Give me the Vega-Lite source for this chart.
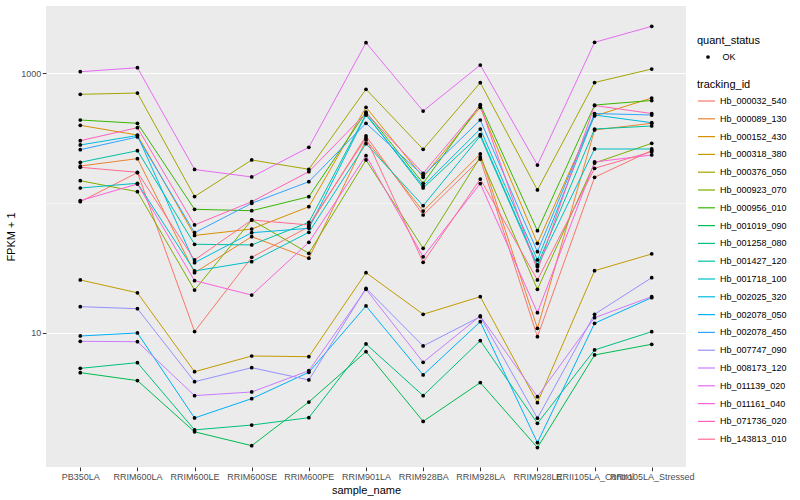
{
"$schema":"https://vega.github.io/schema/vega-lite/v6.json",
"width":640,"height":461,
"autosize":{"type":"none"},
"padding":{"left":46,"top":6,"right":114,"bottom":33},
"background":"white",
"config":{
 "view":{"fill":"#EBEBEB","stroke":null},
 "font":"Liberation Sans",
 "axis":{"domain":false,"gridColor":"white","tickColor":"#333333","labelColor":"#4D4D4D","labelFontSize":9,"titleFontSize":11,"titleFontWeight":"normal","titleColor":"black","tickSize":3.7,"labelPadding":1.5},
 "legend":{"titleFontSize":11,"titleFontWeight":"normal","labelFontSize":9,"labelColor":"black","padding":0}
},
"data":{"values":[
{"tracking_id":"Hb_000032_540","quant_status":"OK","sample_name":"PB350LA","value":102.3},
{"tracking_id":"Hb_000032_540","quant_status":"OK","sample_name":"RRIM600LA","value":171.4},
{"tracking_id":"Hb_000032_540","quant_status":"OK","sample_name":"RRIM600LE","value":10.2},
{"tracking_id":"Hb_000032_540","quant_status":"OK","sample_name":"RRIM600SE","value":38.1},
{"tracking_id":"Hb_000032_540","quant_status":"OK","sample_name":"RRIM600PE","value":65.6},
{"tracking_id":"Hb_000032_540","quant_status":"OK","sample_name":"RRIM901LA","value":328.6},
{"tracking_id":"Hb_000032_540","quant_status":"OK","sample_name":"RRIM928BA","value":80.8},
{"tracking_id":"Hb_000032_540","quant_status":"OK","sample_name":"RRIM928LA","value":218.3},
{"tracking_id":"Hb_000032_540","quant_status":"OK","sample_name":"RRIM928LE","value":9.31},
{"tracking_id":"Hb_000032_540","quant_status":"OK","sample_name":"RRII105LA_Control","value":157.8},
{"tracking_id":"Hb_000032_540","quant_status":"OK","sample_name":"RRII105LA_Stressed","value":254.1},
{"tracking_id":"Hb_000089_130","quant_status":"OK","sample_name":"PB350LA","value":192.8},
{"tracking_id":"Hb_000089_130","quant_status":"OK","sample_name":"RRIM600LA","value":219.8},
{"tracking_id":"Hb_000089_130","quant_status":"OK","sample_name":"RRIM600LE","value":29.0},
{"tracking_id":"Hb_000089_130","quant_status":"OK","sample_name":"RRIM600SE","value":55.0},
{"tracking_id":"Hb_000089_130","quant_status":"OK","sample_name":"RRIM600PE","value":37.5},
{"tracking_id":"Hb_000089_130","quant_status":"OK","sample_name":"RRIM901LA","value":306.2},
{"tracking_id":"Hb_000089_130","quant_status":"OK","sample_name":"RRIM928BA","value":86.7},
{"tracking_id":"Hb_000089_130","quant_status":"OK","sample_name":"RRIM928LA","value":238.8},
{"tracking_id":"Hb_000089_130","quant_status":"OK","sample_name":"RRIM928LE","value":10.8},
{"tracking_id":"Hb_000089_130","quant_status":"OK","sample_name":"RRII105LA_Control","value":365.6},
{"tracking_id":"Hb_000089_130","quant_status":"OK","sample_name":"RRII105LA_Stressed","value":411.7},
{"tracking_id":"Hb_000152_430","quant_status":"OK","sample_name":"PB350LA","value":397.2},
{"tracking_id":"Hb_000152_430","quant_status":"OK","sample_name":"RRIM600LA","value":334.2},
{"tracking_id":"Hb_000152_430","quant_status":"OK","sample_name":"RRIM600LE","value":56.2},
{"tracking_id":"Hb_000152_430","quant_status":"OK","sample_name":"RRIM600SE","value":63.0},
{"tracking_id":"Hb_000152_430","quant_status":"OK","sample_name":"RRIM600PE","value":93.6},
{"tracking_id":"Hb_000152_430","quant_status":"OK","sample_name":"RRIM901LA","value":547.0},
{"tracking_id":"Hb_000152_430","quant_status":"OK","sample_name":"RRIM928BA","value":157.8},
{"tracking_id":"Hb_000152_430","quant_status":"OK","sample_name":"RRIM928LA","value":547.0},
{"tracking_id":"Hb_000152_430","quant_status":"OK","sample_name":"RRIM928LE","value":48.9},
{"tracking_id":"Hb_000152_430","quant_status":"OK","sample_name":"RRII105LA_Control","value":468.8},
{"tracking_id":"Hb_000152_430","quant_status":"OK","sample_name":"RRII105LA_Stressed","value":645.0},
{"tracking_id":"Hb_000318_380","quant_status":"OK","sample_name":"PB350LA","value":25.5},
{"tracking_id":"Hb_000318_380","quant_status":"OK","sample_name":"RRIM600LA","value":20.3},
{"tracking_id":"Hb_000318_380","quant_status":"OK","sample_name":"RRIM600LE","value":5.0},
{"tracking_id":"Hb_000318_380","quant_status":"OK","sample_name":"RRIM600SE","value":6.61},
{"tracking_id":"Hb_000318_380","quant_status":"OK","sample_name":"RRIM600PE","value":6.53},
{"tracking_id":"Hb_000318_380","quant_status":"OK","sample_name":"RRIM901LA","value":29.0},
{"tracking_id":"Hb_000318_380","quant_status":"OK","sample_name":"RRIM928BA","value":13.87},
{"tracking_id":"Hb_000318_380","quant_status":"OK","sample_name":"RRIM928LA","value":18.95},
{"tracking_id":"Hb_000318_380","quant_status":"OK","sample_name":"RRIM928LE","value":2.886},
{"tracking_id":"Hb_000318_380","quant_status":"OK","sample_name":"RRII105LA_Control","value":30.06},
{"tracking_id":"Hb_000318_380","quant_status":"OK","sample_name":"RRII105LA_Stressed","value":40.46},
{"tracking_id":"Hb_000376_050","quant_status":"OK","sample_name":"PB350LA","value":688.7},
{"tracking_id":"Hb_000376_050","quant_status":"OK","sample_name":"RRIM600LA","value":704.7},
{"tracking_id":"Hb_000376_050","quant_status":"OK","sample_name":"RRIM600LE","value":112.2},
{"tracking_id":"Hb_000376_050","quant_status":"OK","sample_name":"RRIM600SE","value":214.6},
{"tracking_id":"Hb_000376_050","quant_status":"OK","sample_name":"RRIM600PE","value":182.0},
{"tracking_id":"Hb_000376_050","quant_status":"OK","sample_name":"RRIM901LA","value":753.4},
{"tracking_id":"Hb_000376_050","quant_status":"OK","sample_name":"RRIM928BA","value":259.4},
{"tracking_id":"Hb_000376_050","quant_status":"OK","sample_name":"RRIM928LA","value":846.2},
{"tracking_id":"Hb_000376_050","quant_status":"OK","sample_name":"RRIM928LE","value":126.0},
{"tracking_id":"Hb_000376_050","quant_status":"OK","sample_name":"RRII105LA_Control","value":849.3},
{"tracking_id":"Hb_000376_050","quant_status":"OK","sample_name":"RRII105LA_Stressed","value":1079.4},
{"tracking_id":"Hb_000923_070","quant_status":"OK","sample_name":"PB350LA","value":148.6},
{"tracking_id":"Hb_000923_070","quant_status":"OK","sample_name":"RRIM600LA","value":122.2},
{"tracking_id":"Hb_000923_070","quant_status":"OK","sample_name":"RRIM600LE","value":21.3},
{"tracking_id":"Hb_000923_070","quant_status":"OK","sample_name":"RRIM600SE","value":73.96},
{"tracking_id":"Hb_000923_070","quant_status":"OK","sample_name":"RRIM600PE","value":40.9},
{"tracking_id":"Hb_000923_070","quant_status":"OK","sample_name":"RRIM901LA","value":214.6},
{"tracking_id":"Hb_000923_070","quant_status":"OK","sample_name":"RRIM928BA","value":44.77},
{"tracking_id":"Hb_000923_070","quant_status":"OK","sample_name":"RRIM928LA","value":226.3},
{"tracking_id":"Hb_000923_070","quant_status":"OK","sample_name":"RRIM928LE","value":21.6},
{"tracking_id":"Hb_000923_070","quant_status":"OK","sample_name":"RRII105LA_Control","value":203.4},
{"tracking_id":"Hb_000923_070","quant_status":"OK","sample_name":"RRII105LA_Stressed","value":288.6},
{"tracking_id":"Hb_000956_010","quant_status":"OK","sample_name":"PB350LA","value":436.5},
{"tracking_id":"Hb_000956_010","quant_status":"OK","sample_name":"RRIM600LA","value":411.7},
{"tracking_id":"Hb_000956_010","quant_status":"OK","sample_name":"RRIM600LE","value":89.4},
{"tracking_id":"Hb_000956_010","quant_status":"OK","sample_name":"RRIM600SE","value":87.2},
{"tracking_id":"Hb_000956_010","quant_status":"OK","sample_name":"RRIM600PE","value":111.8},
{"tracking_id":"Hb_000956_010","quant_status":"OK","sample_name":"RRIM901LA","value":503.0},
{"tracking_id":"Hb_000956_010","quant_status":"OK","sample_name":"RRIM928BA","value":141.9},
{"tracking_id":"Hb_000956_010","quant_status":"OK","sample_name":"RRIM928LA","value":574.6},
{"tracking_id":"Hb_000956_010","quant_status":"OK","sample_name":"RRIM928LE","value":61.1},
{"tracking_id":"Hb_000956_010","quant_status":"OK","sample_name":"RRII105LA_Control","value":569.6},
{"tracking_id":"Hb_000956_010","quant_status":"OK","sample_name":"RRII105LA_Stressed","value":617.0},
{"tracking_id":"Hb_001019_090","quant_status":"OK","sample_name":"PB350LA","value":4.92},
{"tracking_id":"Hb_001019_090","quant_status":"OK","sample_name":"RRIM600LA","value":4.27},
{"tracking_id":"Hb_001019_090","quant_status":"OK","sample_name":"RRIM600LE","value":1.72},
{"tracking_id":"Hb_001019_090","quant_status":"OK","sample_name":"RRIM600SE","value":1.345},
{"tracking_id":"Hb_001019_090","quant_status":"OK","sample_name":"RRIM600PE","value":2.92},
{"tracking_id":"Hb_001019_090","quant_status":"OK","sample_name":"RRIM901LA","value":7.14},
{"tracking_id":"Hb_001019_090","quant_status":"OK","sample_name":"RRIM928BA","value":2.07},
{"tracking_id":"Hb_001019_090","quant_status":"OK","sample_name":"RRIM928LA","value":4.12},
{"tracking_id":"Hb_001019_090","quant_status":"OK","sample_name":"RRIM928LE","value":1.3},
{"tracking_id":"Hb_001019_090","quant_status":"OK","sample_name":"RRII105LA_Control","value":6.73},
{"tracking_id":"Hb_001019_090","quant_status":"OK","sample_name":"RRII105LA_Stressed","value":8.14},
{"tracking_id":"Hb_001258_080","quant_status":"OK","sample_name":"PB350LA","value":5.31},
{"tracking_id":"Hb_001258_080","quant_status":"OK","sample_name":"RRIM600LA","value":5.87},
{"tracking_id":"Hb_001258_080","quant_status":"OK","sample_name":"RRIM600LE","value":1.78},
{"tracking_id":"Hb_001258_080","quant_status":"OK","sample_name":"RRIM600SE","value":1.94},
{"tracking_id":"Hb_001258_080","quant_status":"OK","sample_name":"RRIM600PE","value":2.21},
{"tracking_id":"Hb_001258_080","quant_status":"OK","sample_name":"RRIM901LA","value":8.18},
{"tracking_id":"Hb_001258_080","quant_status":"OK","sample_name":"RRIM928BA","value":3.27},
{"tracking_id":"Hb_001258_080","quant_status":"OK","sample_name":"RRIM928LA","value":8.68},
{"tracking_id":"Hb_001258_080","quant_status":"OK","sample_name":"RRIM928LE","value":2.0},
{"tracking_id":"Hb_001258_080","quant_status":"OK","sample_name":"RRII105LA_Control","value":7.36},
{"tracking_id":"Hb_001258_080","quant_status":"OK","sample_name":"RRII105LA_Stressed","value":10.18},
{"tracking_id":"Hb_001427_120","quant_status":"OK","sample_name":"PB350LA","value":206.0},
{"tracking_id":"Hb_001427_120","quant_status":"OK","sample_name":"RRIM600LA","value":253.1},
{"tracking_id":"Hb_001427_120","quant_status":"OK","sample_name":"RRIM600LE","value":48.05},
{"tracking_id":"Hb_001427_120","quant_status":"OK","sample_name":"RRIM600SE","value":47.5},
{"tracking_id":"Hb_001427_120","quant_status":"OK","sample_name":"RRIM600PE","value":71.0},
{"tracking_id":"Hb_001427_120","quant_status":"OK","sample_name":"RRIM901LA","value":485.5},
{"tracking_id":"Hb_001427_120","quant_status":"OK","sample_name":"RRIM928BA","value":130.5},
{"tracking_id":"Hb_001427_120","quant_status":"OK","sample_name":"RRIM928LA","value":337.4},
{"tracking_id":"Hb_001427_120","quant_status":"OK","sample_name":"RRIM928LE","value":33.3},
{"tracking_id":"Hb_001427_120","quant_status":"OK","sample_name":"RRII105LA_Control","value":372.0},
{"tracking_id":"Hb_001427_120","quant_status":"OK","sample_name":"RRII105LA_Stressed","value":392.4},
{"tracking_id":"Hb_001718_100","quant_status":"OK","sample_name":"PB350LA","value":130.5},
{"tracking_id":"Hb_001718_100","quant_status":"OK","sample_name":"RRIM600LA","value":141.9},
{"tracking_id":"Hb_001718_100","quant_status":"OK","sample_name":"RRIM600LE","value":29.9},
{"tracking_id":"Hb_001718_100","quant_status":"OK","sample_name":"RRIM600SE","value":35.3},
{"tracking_id":"Hb_001718_100","quant_status":"OK","sample_name":"RRIM600PE","value":59.4},
{"tracking_id":"Hb_001718_100","quant_status":"OK","sample_name":"RRIM901LA","value":286.6},
{"tracking_id":"Hb_001718_100","quant_status":"OK","sample_name":"RRIM928BA","value":95.3},
{"tracking_id":"Hb_001718_100","quant_status":"OK","sample_name":"RRIM928LA","value":328.6},
{"tracking_id":"Hb_001718_100","quant_status":"OK","sample_name":"RRIM928LE","value":32.3},
{"tracking_id":"Hb_001718_100","quant_status":"OK","sample_name":"RRII105LA_Control","value":260.9},
{"tracking_id":"Hb_001718_100","quant_status":"OK","sample_name":"RRII105LA_Stressed","value":260.9},
{"tracking_id":"Hb_002025_320","quant_status":"OK","sample_name":"PB350LA","value":280.1},
{"tracking_id":"Hb_002025_320","quant_status":"OK","sample_name":"RRIM600LA","value":331.4},
{"tracking_id":"Hb_002025_320","quant_status":"OK","sample_name":"RRIM600LE","value":34.65},
{"tracking_id":"Hb_002025_320","quant_status":"OK","sample_name":"RRIM600SE","value":59.0},
{"tracking_id":"Hb_002025_320","quant_status":"OK","sample_name":"RRIM600PE","value":63.8},
{"tracking_id":"Hb_002025_320","quant_status":"OK","sample_name":"RRIM901LA","value":476.9},
{"tracking_id":"Hb_002025_320","quant_status":"OK","sample_name":"RRIM928BA","value":135.3},
{"tracking_id":"Hb_002025_320","quant_status":"OK","sample_name":"RRIM928LA","value":372.0},
{"tracking_id":"Hb_002025_320","quant_status":"OK","sample_name":"RRIM928LE","value":36.35},
{"tracking_id":"Hb_002025_320","quant_status":"OK","sample_name":"RRII105LA_Control","value":476.9},
{"tracking_id":"Hb_002025_320","quant_status":"OK","sample_name":"RRII105LA_Stressed","value":416.0},
{"tracking_id":"Hb_002078_050","quant_status":"OK","sample_name":"PB350LA","value":9.43},
{"tracking_id":"Hb_002078_050","quant_status":"OK","sample_name":"RRIM600LA","value":9.95},
{"tracking_id":"Hb_002078_050","quant_status":"OK","sample_name":"RRIM600LE","value":2.2},
{"tracking_id":"Hb_002078_050","quant_status":"OK","sample_name":"RRIM600SE","value":3.1},
{"tracking_id":"Hb_002078_050","quant_status":"OK","sample_name":"RRIM600PE","value":4.95},
{"tracking_id":"Hb_002078_050","quant_status":"OK","sample_name":"RRIM901LA","value":16.07},
{"tracking_id":"Hb_002078_050","quant_status":"OK","sample_name":"RRIM928BA","value":4.72},
{"tracking_id":"Hb_002078_050","quant_status":"OK","sample_name":"RRIM928LA","value":12.15},
{"tracking_id":"Hb_002078_050","quant_status":"OK","sample_name":"RRIM928LE","value":1.42},
{"tracking_id":"Hb_002078_050","quant_status":"OK","sample_name":"RRII105LA_Control","value":11.82},
{"tracking_id":"Hb_002078_050","quant_status":"OK","sample_name":"RRII105LA_Stressed","value":18.62},
{"tracking_id":"Hb_002078_450","quant_status":"OK","sample_name":"PB350LA","value":257.6},
{"tracking_id":"Hb_002078_450","quant_status":"OK","sample_name":"RRIM600LA","value":322.8},
{"tracking_id":"Hb_002078_450","quant_status":"OK","sample_name":"RRIM600LE","value":59.0},
{"tracking_id":"Hb_002078_450","quant_status":"OK","sample_name":"RRIM600SE","value":99.5},
{"tracking_id":"Hb_002078_450","quant_status":"OK","sample_name":"RRIM600PE","value":146.0},
{"tracking_id":"Hb_002078_450","quant_status":"OK","sample_name":"RRIM901LA","value":411.7},
{"tracking_id":"Hb_002078_450","quant_status":"OK","sample_name":"RRIM928BA","value":162.9},
{"tracking_id":"Hb_002078_450","quant_status":"OK","sample_name":"RRIM928LA","value":436.5},
{"tracking_id":"Hb_002078_450","quant_status":"OK","sample_name":"RRIM928LE","value":42.1},
{"tracking_id":"Hb_002078_450","quant_status":"OK","sample_name":"RRII105LA_Control","value":489.8},
{"tracking_id":"Hb_002078_450","quant_status":"OK","sample_name":"RRII105LA_Stressed","value":476.9},
{"tracking_id":"Hb_007747_090","quant_status":"OK","sample_name":"PB350LA","value":15.87},
{"tracking_id":"Hb_007747_090","quant_status":"OK","sample_name":"RRIM600LA","value":15.31},
{"tracking_id":"Hb_007747_090","quant_status":"OK","sample_name":"RRIM600LE","value":4.19},
{"tracking_id":"Hb_007747_090","quant_status":"OK","sample_name":"RRIM600SE","value":5.37},
{"tracking_id":"Hb_007747_090","quant_status":"OK","sample_name":"RRIM600PE","value":4.32},
{"tracking_id":"Hb_007747_090","quant_status":"OK","sample_name":"RRIM901LA","value":22.0},
{"tracking_id":"Hb_007747_090","quant_status":"OK","sample_name":"RRIM928BA","value":7.9},
{"tracking_id":"Hb_007747_090","quant_status":"OK","sample_name":"RRIM928LA","value":13.29},
{"tracking_id":"Hb_007747_090","quant_status":"OK","sample_name":"RRIM928LE","value":2.19},
{"tracking_id":"Hb_007747_090","quant_status":"OK","sample_name":"RRII105LA_Control","value":13.87},
{"tracking_id":"Hb_007747_090","quant_status":"OK","sample_name":"RRII105LA_Stressed","value":26.56},
{"tracking_id":"Hb_008173_120","quant_status":"OK","sample_name":"PB350LA","value":8.58},
{"tracking_id":"Hb_008173_120","quant_status":"OK","sample_name":"RRIM600LA","value":8.52},
{"tracking_id":"Hb_008173_120","quant_status":"OK","sample_name":"RRIM600LE","value":3.27},
{"tracking_id":"Hb_008173_120","quant_status":"OK","sample_name":"RRIM600SE","value":3.49},
{"tracking_id":"Hb_008173_120","quant_status":"OK","sample_name":"RRIM600PE","value":5.09},
{"tracking_id":"Hb_008173_120","quant_status":"OK","sample_name":"RRIM901LA","value":21.6},
{"tracking_id":"Hb_008173_120","quant_status":"OK","sample_name":"RRIM928BA","value":5.91},
{"tracking_id":"Hb_008173_120","quant_status":"OK","sample_name":"RRIM928LA","value":13.45},
{"tracking_id":"Hb_008173_120","quant_status":"OK","sample_name":"RRIM928LE","value":3.21},
{"tracking_id":"Hb_008173_120","quant_status":"OK","sample_name":"RRII105LA_Control","value":13.05},
{"tracking_id":"Hb_008173_120","quant_status":"OK","sample_name":"RRII105LA_Stressed","value":18.95},
{"tracking_id":"Hb_011139_020","quant_status":"OK","sample_name":"PB350LA","value":1028.7},
{"tracking_id":"Hb_011139_020","quant_status":"OK","sample_name":"RRIM600LA","value":1104.6},
{"tracking_id":"Hb_011139_020","quant_status":"OK","sample_name":"RRIM600LE","value":181.3},
{"tracking_id":"Hb_011139_020","quant_status":"OK","sample_name":"RRIM600SE","value":158.7},
{"tracking_id":"Hb_011139_020","quant_status":"OK","sample_name":"RRIM600PE","value":268.9},
{"tracking_id":"Hb_011139_020","quant_status":"OK","sample_name":"RRIM901LA","value":1721.4},
{"tracking_id":"Hb_011139_020","quant_status":"OK","sample_name":"RRIM928BA","value":512.0},
{"tracking_id":"Hb_011139_020","quant_status":"OK","sample_name":"RRIM928LA","value":1158.8},
{"tracking_id":"Hb_011139_020","quant_status":"OK","sample_name":"RRIM928LE","value":196.3},
{"tracking_id":"Hb_011139_020","quant_status":"OK","sample_name":"RRII105LA_Control","value":1733.8},
{"tracking_id":"Hb_011139_020","quant_status":"OK","sample_name":"RRII105LA_Stressed","value":2303.5},
{"tracking_id":"Hb_011161_040","quant_status":"OK","sample_name":"PB350LA","value":104.2},
{"tracking_id":"Hb_011161_040","quant_status":"OK","sample_name":"RRIM600LA","value":140.1},
{"tracking_id":"Hb_011161_040","quant_status":"OK","sample_name":"RRIM600LE","value":25.2},
{"tracking_id":"Hb_011161_040","quant_status":"OK","sample_name":"RRIM600SE","value":19.5},
{"tracking_id":"Hb_011161_040","quant_status":"OK","sample_name":"RRIM600PE","value":49.8},
{"tracking_id":"Hb_011161_040","quant_status":"OK","sample_name":"RRIM901LA","value":231.5},
{"tracking_id":"Hb_011161_040","quant_status":"OK","sample_name":"RRIM928BA","value":38.5},
{"tracking_id":"Hb_011161_040","quant_status":"OK","sample_name":"RRIM928LA","value":141.3},
{"tracking_id":"Hb_011161_040","quant_status":"OK","sample_name":"RRIM928LE","value":14.26},
{"tracking_id":"Hb_011161_040","quant_status":"OK","sample_name":"RRII105LA_Control","value":207.1},
{"tracking_id":"Hb_011161_040","quant_status":"OK","sample_name":"RRII105LA_Stressed","value":234.5},
{"tracking_id":"Hb_071736_020","quant_status":"OK","sample_name":"PB350LA","value":302.2},
{"tracking_id":"Hb_071736_020","quant_status":"OK","sample_name":"RRIM600LA","value":380.7},
{"tracking_id":"Hb_071736_020","quant_status":"OK","sample_name":"RRIM600LE","value":67.7},
{"tracking_id":"Hb_071736_020","quant_status":"OK","sample_name":"RRIM600SE","value":102.3},
{"tracking_id":"Hb_071736_020","quant_status":"OK","sample_name":"RRIM600PE","value":174.3},
{"tracking_id":"Hb_071736_020","quant_status":"OK","sample_name":"RRIM901LA","value":494.2},
{"tracking_id":"Hb_071736_020","quant_status":"OK","sample_name":"RRIM928BA","value":169.4},
{"tracking_id":"Hb_071736_020","quant_status":"OK","sample_name":"RRIM928LA","value":564.6},
{"tracking_id":"Hb_071736_020","quant_status":"OK","sample_name":"RRIM928LE","value":30.06},
{"tracking_id":"Hb_071736_020","quant_status":"OK","sample_name":"RRII105LA_Control","value":564.6},
{"tracking_id":"Hb_071736_020","quant_status":"OK","sample_name":"RRII105LA_Stressed","value":489.8},
{"tracking_id":"Hb_143813_010","quant_status":"OK","sample_name":"PB350LA","value":188.5},
{"tracking_id":"Hb_143813_010","quant_status":"OK","sample_name":"RRIM600LA","value":172.5},
{"tracking_id":"Hb_143813_010","quant_status":"OK","sample_name":"RRIM600LE","value":36.35},
{"tracking_id":"Hb_143813_010","quant_status":"OK","sample_name":"RRIM600SE","value":73.96},
{"tracking_id":"Hb_143813_010","quant_status":"OK","sample_name":"RRIM600PE","value":67.7},
{"tracking_id":"Hb_143813_010","quant_status":"OK","sample_name":"RRIM901LA","value":317.1},
{"tracking_id":"Hb_143813_010","quant_status":"OK","sample_name":"RRIM928BA","value":34.9},
{"tracking_id":"Hb_143813_010","quant_status":"OK","sample_name":"RRIM928LA","value":153.1},
{"tracking_id":"Hb_143813_010","quant_status":"OK","sample_name":"RRIM928LE","value":25.5},
{"tracking_id":"Hb_143813_010","quant_status":"OK","sample_name":"RRII105LA_Control","value":185.1},
{"tracking_id":"Hb_143813_010","quant_status":"OK","sample_name":"RRII105LA_Stressed","value":248.6}
]},
"encoding":{
 "x":{"field":"sample_name","type":"nominal","sort":["PB350LA","RRIM600LA","RRIM600LE","RRIM600SE","RRIM600PE","RRIM901LA","RRIM928BA","RRIM928LA","RRIM928LE","RRII105LA_Control","RRII105LA_Stressed"],"scale":{"type":"point","padding":0.6},"axis":{"title":"sample_name","labelAngle":0,"labelOverlap":false,"gridWidth":1.1,"titlePadding":3}},
 "y":{"field":"value","type":"quantitative","scale":{"type":"log","domain":[0.921,3304],"nice":false,"zero":false},"axis":{"title":"FPKM + 1","values":[10,100,1000],"format":"d","labelExpr":"datum.value == 100 ? '' : datum.label","gridWidth":{"condition":{"test":"datum.value == 100","value":0.5},"value":1.1},"tickOpacity":{"condition":{"test":"datum.value == 100","value":0},"value":1},"titlePadding":4}}
},
"layer":[
 {"mark":{"type":"line","strokeWidth":1},
  "encoding":{"color":{"field":"tracking_id","type":"nominal","title":"tracking_id",
   "scale":{"domain":["Hb_000032_540","Hb_000089_130","Hb_000152_430","Hb_000318_380","Hb_000376_050","Hb_000923_070","Hb_000956_010","Hb_001019_090","Hb_001258_080","Hb_001427_120","Hb_001718_100","Hb_002025_320","Hb_002078_050","Hb_002078_450","Hb_007747_090","Hb_008173_120","Hb_011139_020","Hb_011161_040","Hb_071736_020","Hb_143813_010"],
    "range":["#F8766D","#EA8331","#D89000","#C09B00","#A3A500","#7CAE00","#39B600","#00BB4E","#00BF7D","#00C1A3","#00BFC4","#00BAE0","#00B0F6","#35A2FF","#9590FF","#C77CFF","#E76BF3","#FA62DB","#FF62BC","#FF6C91"]},
   "legend":{"orient":"none","legendX":651,"legendY":73,"symbolType":"stroke","symbolSize":289,"symbolStrokeWidth":1.2,"rowPadding":2.8,"titlePadding":1.5,"labelOffset":4}}}},
 {"mark":{"type":"point","filled":true,"opacity":1,"size":14,"color":"black"},
  "encoding":{"shape":{"field":"quant_status","type":"nominal","title":"quant_status","scale":{"range":["circle"]},
   "legend":{"orient":"none","legendX":651,"legendY":29,"symbolSize":14,"symbolFillColor":"black","symbolStrokeColor":"black","symbolOffset":6.5,"labelOffset":10,"titlePadding":6.5}}}}
]
}
